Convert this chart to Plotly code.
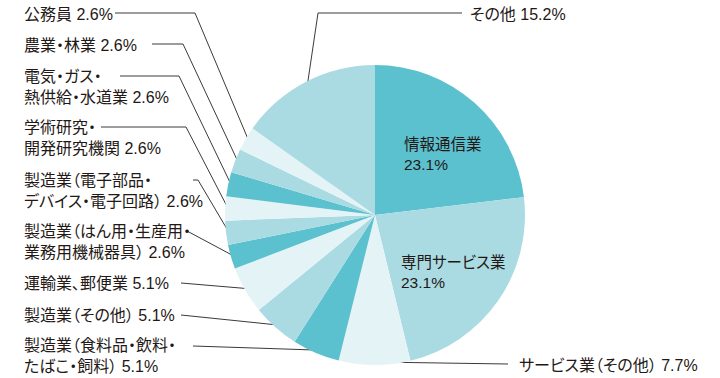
import math
import plotly.graph_objects as go

# ---- data ----
categories = [
    "情報通信業", "専門サービス業", "サービス業（その他）",
    "製造業（食料品・飲料・たばこ・飼料）", "製造業（その他）", "運輸業、郵便業",
    "製造業（はん用・生産用・業務用機械器具）", "製造業（電子部品・デバイス・電子回路）",
    "学術研究・開発研究機関", "電気・ガス・熱供給・水道業", "農業・林業", "公務員", "その他",
]
shares = [23.1, 23.1, 7.7, 5.1, 5.1, 5.1, 2.6, 2.6, 2.6, 2.6, 2.6, 2.6, 15.2]
display_labels = [
    "情報通信業<br>23.1%", "専門サービス業<br>23.1%", "サービス業（その他） 7.7%",
    "製造業（食料品・飲料・<br>たばこ・飼料） 5.1%", "製造業（その他） 5.1%", "運輸業、郵便業 5.1%",
    "製造業（はん用・生産用・<br>業務用機械器具） 2.6%", "製造業（電子部品・<br>デバイス・電子回路） 2.6%",
    "学術研究・<br>開発研究機関 2.6%", "電気・ガス・<br>熱供給・水道業 2.6%", "農業・林業 2.6%",
    "公務員 2.6%", "その他 15.2%",
]

# ---- styles / layout ----
W, H = 720, 378
DARK, MID, LIGHT = "#5cc1cf", "#aadbe3", "#e4f4f6"
colors = [DARK, MID, LIGHT] * 4 + [MID]
CX, CY, R = 375, 215, 150
FONT = "Liberation Sans, Noto Sans CJK JP"
TXT = "#231815"
LINE = "#3a3a3a"

# label placement: (x, y_center, font size)
label_pos = [
    (402, 154, 15.5), (399, 272, 15.5), (517, 365, 16),
    (22, 356, 16), (22, 315, 16), (22, 283, 16),
    (22, 242, 16), (22, 191, 16), (22, 138, 16),
    (22, 87, 16), (22, 45, 16), (22, 14, 16), (468, 14, 16),
]
leader_paths = [
    None, None, [(508, 364)],
    [(193, 346)], [(181, 315)], [(181, 283)],
    [(187, 231)], [(193, 180), (198, 180)],
    [(101, 127), (186, 127)], [(120, 76), (179, 76)], [(152, 44), (183, 44)],
    [(115, 13), (195, 13)], [(462, 13), (318, 13)],
]

fig = go.Figure()
fig.add_trace(go.Pie(
    labels=categories, values=shares, sort=False, direction="clockwise",
    rotation=0, marker=dict(colors=colors, line=dict(width=0)),
    textinfo="none", hoverinfo="label+percent", showlegend=False,
    domain=dict(x=[(CX - R) / W, (CX + R) / W], y=[(H - CY - R) / H, (H - CY + R) / H]),
))

# leader lines & dots from slice mid-angles
total = sum(shares)
cum = 0.0
lx, ly, dx, dy = [], [], [], []
for i, v in enumerate(shares):
    mid = (cum + v / 2) / total * 2 * math.pi
    cum += v
    path = leader_paths[i]
    if path is None:
        continue
    px = CX + 0.98 * R * math.sin(mid)
    py = CY - 0.98 * R * math.cos(mid)
    pts = path + [(px, py)]
    lx += [p[0] for p in pts] + [None]
    ly += [p[1] for p in pts] + [None]
    dx.append(px)
    dy.append(py)

fig.add_trace(go.Scatter(x=lx, y=ly, mode="lines", line=dict(color=LINE, width=1),
                         hoverinfo="skip", showlegend=False))
fig.add_trace(go.Scatter(x=dx, y=dy, mode="markers", marker=dict(color="#111", size=4),
                         hoverinfo="skip", showlegend=False))

for lab, (x, y, fs) in zip(display_labels, label_pos):
    fig.add_annotation(x=x, y=y, xref="x", yref="y", text=lab, showarrow=False,
                       xanchor="left", yanchor="middle", align="left",
                       font=dict(family=FONT, size=fs, color=TXT))

fig.update_layout(
    width=W, height=H, margin=dict(l=0, r=0, t=0, b=0),
    paper_bgcolor="white", plot_bgcolor="rgba(0,0,0,0)",
    xaxis=dict(range=[0, W], visible=False, fixedrange=True, domain=[0, 1]),
    yaxis=dict(range=[H, 0], visible=False, fixedrange=True, domain=[0, 1]),
)
post = (
    "document.body.style.margin='0';"
    "var s=document.createElement('style');"
    "s.textContent='svg text{font-feature-settings:\"palt\" 1;}';"
    "document.head.appendChild(s);"
)
fig.write_html("out.html", post_script=post, config={"displayModeBar": False})
